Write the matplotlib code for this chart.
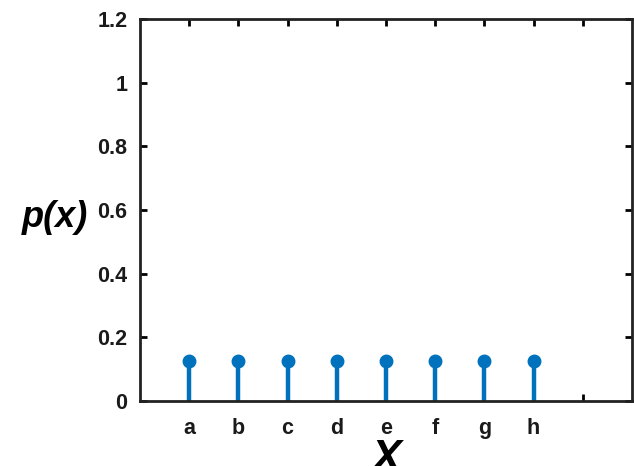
import matplotlib
matplotlib.use("Agg")
import matplotlib.pyplot as plt

# outcomes and their probabilities (uniform over 8 outcomes)
outcomes = ['a', 'b', 'c', 'd', 'e', 'f', 'g', 'h']
probs = [0.125, 0.125, 0.125, 0.125, 0.125, 0.125, 0.125, 0.125]
positions = list(range(1, len(outcomes) + 1))

plt.rcParams['font.family'] = ['Liberation Sans', 'DejaVu Sans']

fig = plt.figure(figsize=(6.34, 4.66), dpi=100)
ax = fig.add_axes([0.2208, 0.1395, 0.776, 0.8195])

blue = '#0072BD'
markers, stems, base = ax.stem(positions, probs, basefmt=' ')
plt.setp(stems, color=blue, linewidth=3.2)
plt.setp(markers, color=blue, markersize=9)

ax.set_xlim(0, 10)
ax.set_ylim(0, 1.2)
ax.set_xticks(positions + [9])
ax.set_xticklabels(outcomes + [''])
ax.set_yticks([0, 0.2, 0.4, 0.6, 0.8, 1.0, 1.2])
ax.set_yticklabels(['0', '0.2', '0.4', '0.6', '0.8', '1', '1.2'])

ax.tick_params(direction='in', length=5, width=2, top=True, right=True,
               labelsize=15.5, labelcolor='#1a1a1a')
ax.tick_params(axis='x', pad=12)
ax.tick_params(axis='y', pad=9)
for lab in ax.get_xticklabels() + ax.get_yticklabels():
    lab.set_fontweight('bold')
for sp in ax.spines.values():
    sp.set_linewidth(2)
    sp.set_color('#222222')

ax.set_xlabel('X', fontsize=32, fontweight='bold', fontstyle='italic', labelpad=0)
ax.set_ylabel('p(x)', fontsize=26, fontweight='bold', fontstyle='italic',
              rotation=0, va='center', ha='right', labelpad=7)
ax.yaxis.set_label_coords(-0.105, 0.48)

fig.savefig('out.png', dpi=100)
